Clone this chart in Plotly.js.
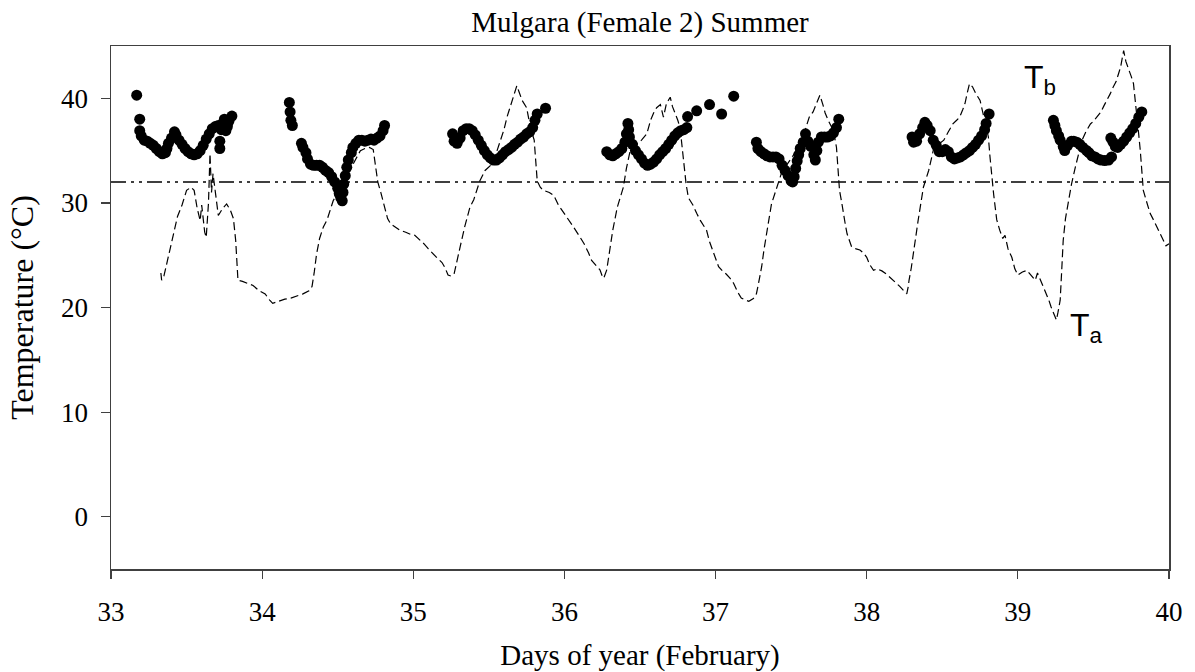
<!DOCTYPE html>
<html>
<head>
<meta charset="utf-8">
<script src="https://cdn.plot.ly/plotly-3.0.1.min.js"></script>
<style>html,body{margin:0;padding:0;background:#fff;}#chart{width:1195px;height:672px;}</style>
</head>
<body>
<div id="chart"></div>
<script>
// Body temperature (Tb) readings: day of year, temperature (°C)
const tbDays = [
  33.17,33.19,33.19,33.20,33.22,33.24,33.26,33.28,33.30,33.32,33.34,33.36,33.37,33.38,33.40,33.42,33.43,33.45,33.47,33.49,33.51,33.53,33.55,33.57,33.59,33.61,33.63,33.65,33.67,33.69,33.71,33.72,33.72,33.73,33.74,33.75,33.76,33.77,33.78,33.80,
  34.18,34.185,34.19,34.20,34.26,34.27,34.29,34.30,34.32,34.34,34.36,34.38,34.40,34.42,34.44,34.46,34.48,34.50,34.51,34.52,34.53,34.535,34.54,34.55,34.56,34.57,34.59,34.60,34.62,34.64,34.66,34.68,34.70,34.72,34.74,34.76,34.78,34.80,34.81,
  35.26,35.27,35.29,35.31,35.33,35.35,35.37,35.39,35.41,35.43,35.45,35.47,35.49,35.51,35.53,35.55,35.57,35.59,35.61,35.63,35.65,35.67,35.69,35.71,35.73,35.75,35.77,35.79,35.805,35.82,35.875,
  36.28,36.30,36.32,36.34,36.36,36.38,36.40,36.41,36.42,36.425,36.43,36.45,36.47,36.49,36.51,36.53,36.55,36.57,36.59,36.61,36.63,36.65,36.67,36.69,36.71,36.73,36.75,36.77,36.79,36.81,36.815,36.875,36.96,37.04,37.12,
  37.27,37.28,37.30,37.32,37.34,37.36,37.38,37.40,37.42,37.44,37.46,37.48,37.50,37.51,37.52,37.53,37.54,37.55,37.56,37.58,37.595,37.61,37.63,37.65,37.66,37.67,37.68,37.70,37.72,37.74,37.76,37.78,37.80,37.815,
  38.30,38.31,38.33,38.35,38.37,38.385,38.40,38.42,38.44,38.46,38.48,38.50,38.52,38.54,38.56,38.58,38.60,38.62,38.64,38.66,38.68,38.70,38.72,38.74,38.76,38.78,38.79,38.81,
  39.235,39.245,39.255,39.27,39.28,39.30,39.31,39.33,39.355,39.37,39.39,39.41,39.43,39.455,39.47,39.49,39.51,39.53,39.55,39.575,39.60,39.62,
  39.615,39.63,39.645,39.66,39.68,39.70,39.72,39.74,39.76,39.78,39.80,39.82
];
const tbTemps = [
  40.3,38.0,36.9,36.4,36.0,35.9,35.7,35.5,35.2,34.9,34.7,34.8,35.2,35.7,36.2,36.8,36.5,36.0,35.6,35.2,34.9,34.7,34.6,34.7,35.0,35.5,36.1,36.6,37.1,37.3,37.4,35.2,35.9,37.0,37.6,38.0,36.9,37.3,37.8,38.3,
  39.6,38.7,37.9,37.4,35.7,35.3,34.8,34.2,33.7,33.6,33.6,33.6,33.4,33.1,32.9,32.5,32.0,31.4,30.9,30.5,30.2,31.0,31.8,32.6,33.4,34.1,34.8,35.3,35.7,36.0,36.0,35.9,36.0,36.1,36.0,36.2,36.4,36.9,37.4,
  36.6,35.9,35.7,36.2,36.9,37.1,37.1,36.9,36.5,36.0,35.5,35.0,34.6,34.3,34.1,34.1,34.3,34.6,34.9,35.1,35.3,35.6,35.8,36.1,36.3,36.6,36.8,37.2,37.9,38.5,39.05,
  34.9,34.6,34.5,34.7,34.9,35.2,35.8,36.6,37.6,37.0,36.3,35.6,35.0,34.6,34.2,33.8,33.6,33.7,33.9,34.2,34.6,34.9,35.2,35.6,36.0,36.4,36.7,36.9,37.0,37.2,38.25,38.8,39.4,38.5,40.2,
  35.8,35.2,34.9,34.7,34.5,34.4,34.4,34.4,34.2,33.6,33.1,32.6,32.1,32.0,32.5,33.3,34.0,34.6,35.2,35.8,36.6,35.9,35.4,34.6,34.1,35.0,35.8,36.3,36.3,36.3,36.4,36.7,37.2,38.0,
  36.3,35.8,35.9,36.6,37.2,37.7,37.4,36.9,36.0,35.5,34.9,34.9,35.1,34.9,34.4,34.2,34.3,34.4,34.6,34.8,35.0,35.3,35.6,36.0,36.4,37.0,37.6,38.5,
  37.9,37.4,36.9,36.4,36.0,35.4,35.0,35.5,35.9,35.9,35.8,35.6,35.3,35.0,34.8,34.5,34.4,34.2,34.1,34.05,34.1,34.4,
  36.2,35.8,35.4,35.3,35.6,35.9,36.3,36.7,37.1,37.6,38.2,38.7
];
// Ambient temperature (Ta) readings
const taDays = [
  33.33,33.335,33.35,33.38,33.41,33.44,33.47,33.50,33.53,33.55,33.57,33.59,33.60,33.62,33.63,33.645,33.655,33.665,33.675,33.69,33.71,33.74,33.765,33.79,33.81,33.825,33.84,33.87,33.90,33.94,33.98,34.02,34.05,34.07,34.11,34.15,34.19,34.23,34.27,34.31,34.33,34.345,34.36,34.38,34.405,34.43,34.45,34.47,34.50,34.52,34.55,34.575,34.60,34.625,34.65,34.68,34.71,34.735,34.75,34.765,34.785,34.81,34.83,34.85,34.88,34.91,34.95,34.98,35.01,35.04,35.07,35.10,35.13,35.16,35.19,35.21,35.23,35.25,35.27,35.29,35.31,35.34,35.36,35.375,35.40,35.42,35.44,35.475,35.52,35.55,35.57,35.60,35.62,35.645,35.665,35.685,35.70,35.72,35.75,35.775,35.80,35.81,35.82,35.84,35.86,35.90,35.93,35.96,36.00,36.03,36.06,36.10,36.13,36.16,36.18,36.21,36.235,36.25,36.26,36.28,36.29,36.31,36.32,36.35,36.37,36.39,36.41,36.435,36.47,36.51,36.545,36.56,36.57,36.59,36.61,36.635,36.655,36.675,36.70,36.715,36.73,36.75,36.765,36.78,36.79,36.805,36.82,36.85,36.875,36.90,36.94,36.96,36.985,37.00,37.02,37.045,37.07,37.095,37.12,37.145,37.17,37.20,37.22,37.25,37.27,37.28,37.305,37.32,37.34,37.355,37.37,37.39,37.405,37.435,37.46,37.49,37.51,37.535,37.56,37.58,37.60,37.62,37.645,37.67,37.69,37.71,37.725,37.745,37.76,37.78,37.80,37.81,37.82,37.835,37.845,37.86,37.87,37.885,37.90,37.93,37.955,37.98,38.00,38.02,38.045,38.07,38.10,38.13,38.155,38.19,38.22,38.245,38.265,38.275,38.28,38.295,38.31,38.325,38.34,38.36,38.375,38.41,38.44,38.475,38.51,38.54,38.57,38.595,38.615,38.635,38.65,38.665,38.68,38.70,38.72,38.75,38.77,38.79,38.805,38.815,38.825,38.84,38.85,38.86,38.88,38.90,38.915,38.935,38.96,38.98,39.00,39.03,39.06,39.09,39.115,39.13,39.145,39.17,39.19,39.205,39.22,39.24,39.255,39.265,39.28,39.29,39.30,39.315,39.335,39.355,39.38,39.40,39.425,39.45,39.48,39.50,39.525,39.55,39.57,39.59,39.61,39.63,39.65,39.665,39.68,39.69,39.70,39.715,39.73,39.75,39.765,39.775,39.785,39.80,39.81,39.82,39.83,39.85,39.875,39.90,39.92,39.945,39.965,39.98,40.00
];
const taTemps = [
  23.3,22.6,23.0,25.0,27.0,28.7,29.8,31.2,31.5,31.2,29.5,28.3,29.8,27.2,26.7,30.0,34.7,31.0,32.8,31.0,28.8,29.5,29.9,29.3,28.5,26.4,22.6,22.5,22.3,22.1,21.6,21.3,20.7,20.4,20.6,20.8,20.9,21.1,21.3,21.6,22.0,23.4,25.1,26.6,27.7,28.4,29.3,30.2,31.0,31.6,32.4,33.0,33.7,34.3,35.0,35.2,35.3,35.1,33.5,32.0,31.0,29.6,28.5,28.0,27.7,27.4,27.2,27.0,26.9,26.5,26.1,25.6,25.1,24.7,24.3,23.8,23.1,23.0,23.2,24.4,25.8,27.7,28.8,29.6,30.3,31.2,32.1,33.1,33.7,34.8,35.7,37.0,38.2,39.3,40.3,41.2,40.6,39.8,39.1,37.2,36.0,34.0,32.1,31.5,31.2,31.0,30.7,29.8,29.0,28.3,27.7,26.8,26.1,25.2,24.5,24.0,23.6,23.0,22.8,23.6,24.5,26.2,27.4,29.6,30.5,31.5,33.3,35.0,35.5,36.0,36.6,37.4,37.9,38.6,39.1,39.4,38.2,39.5,40.1,39.2,38.7,37.9,37.2,35.0,33.4,31.8,30.5,29.8,29.0,28.3,27.4,26.3,25.3,24.6,23.9,23.5,23.2,22.8,22.3,21.5,20.9,20.7,20.6,20.85,21.3,22.0,23.9,25.5,27.05,28.6,29.9,30.8,31.5,32.8,33.4,34.05,34.5,35.0,35.7,36.3,37.3,38.2,38.7,39.5,40.3,39.4,38.6,37.9,37.4,36.9,35.3,33.0,31.2,30.0,29.0,27.8,27.05,26.3,25.8,25.6,25.5,25.2,24.8,24.1,23.55,23.7,23.5,23.2,22.9,22.4,22.0,21.6,21.3,22.0,22.6,23.8,25.1,26.8,28.3,30.0,31.5,33.1,35.0,35.6,36.0,36.8,37.55,37.9,38.2,38.9,39.5,40.5,41.4,41.1,40.5,39.8,38.5,37.4,36.3,34.5,32.8,30.8,29.6,28.4,27.4,26.6,26.9,25.6,24.8,23.7,23.1,23.4,23.55,23.0,22.6,23.3,22.8,22.0,21.3,20.7,20.05,19.4,18.8,19.5,20.7,23.5,26.4,28.5,30.2,31.8,33.4,34.7,36.0,36.8,37.55,37.8,38.2,38.7,39.3,39.8,40.4,41.05,41.6,42.3,43.0,43.8,44.55,43.5,42.95,42.1,41.4,39.8,38.2,36.5,35.0,33.0,31.2,30.2,29.0,28.3,27.7,27.0,26.4,25.9,26.1
];
// Reference threshold line
const refDays = [33, 40];
const refTemps = [32, 32];
const xTicks = [33, 34, 35, 36, 37, 38, 39, 40];
const yTicks = [0, 10, 20, 30, 40];

const serif = 'Liberation Serif';
const sans = 'Liberation Sans';
const traces = [
  {x: refDays, y: refTemps, type: 'scatter', mode: 'lines', hoverinfo: 'skip',
   line: {color: '#000', width: 1.4, dash: '15px,5px,3px,5px,3px,5px'}},
  {x: taDays, y: taTemps, type: 'scatter', mode: 'lines', name: 'Ta',
   line: {color: '#000', width: 1.2, dash: '8px,4px'}},
  {x: tbDays, y: tbTemps, type: 'scatter', mode: 'markers', name: 'Tb',
   marker: {color: '#000', size: 11}}
];
const layout = {
  width: 1195, height: 672,
  margin: {l: 111, r: 26, t: 46, b: 103},
  paper_bgcolor: '#fff', plot_bgcolor: '#fff',
  showlegend: false,
  font: {family: serif, color: '#000', size: 27},
  title: {text: 'Mulgara (Female 2) Summer', font: {family: serif, size: 29, color: '#000'},
          x: 0.5, xref: 'paper', y: 1 - 22/672, yref: 'container', yanchor: 'middle'},
  xaxis: {range: [33, 40], tickvals: xTicks, ticktext: xTicks.map(String),
          showgrid: false, zeroline: false, showline: true, linecolor: '#404040', linewidth: 1.5,
          mirror: true, ticks: 'outside', ticklen: 8, tickcolor: '#404040', tickwidth: 1.2,
          ticklabelstandoff: 10,
          tickfont: {family: serif, size: 27, color: '#000'},
          title: {text: 'Days of year (February)', font: {family: serif, size: 29, color: '#000'}, standoff: 21}},
  yaxis: {range: [-5, 45], tickvals: yTicks, ticktext: yTicks.map(String),
          showgrid: false, zeroline: false, showline: true, linecolor: '#404040', linewidth: 1.5,
          mirror: true, ticks: 'outside', ticklen: 9, tickcolor: '#404040', tickwidth: 1.2,
          ticklabelstandoff: 7,
          tickfont: {family: serif, size: 27, color: '#000'},
          title: {text: 'Temperature (°C)', font: {family: serif, size: 32, color: '#000'}, standoff: 18}},
  annotations: [
    {x: 39.03, y: 41.8, xref: 'x', yref: 'y', xanchor: 'left', yanchor: 'middle', showarrow: false,
     text: 'T<sub>b</sub>', font: {family: sans, size: 32, color: '#000'}},
    {x: 39.33, y: 18.1, xref: 'x', yref: 'y', xanchor: 'left', yanchor: 'middle', showarrow: false,
     text: 'T<sub>a</sub>', font: {family: sans, size: 32, color: '#000'}}
  ]
};
Plotly.newPlot('chart', traces, layout, {displayModeBar: false, staticPlot: true});
</script>
</body>
</html>
